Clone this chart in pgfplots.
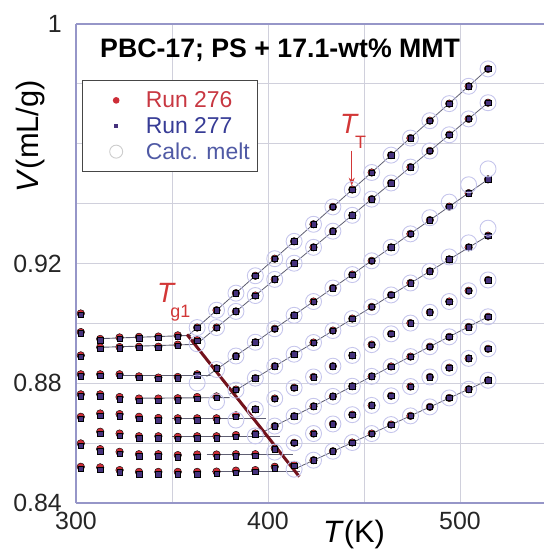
\documentclass[border=0pt]{standalone}
\usepackage{fontspec}
\setmainfont{Liberation Sans}
\usepackage{pgfplots}
\pgfplotsset{compat=1.18}
\usepackage{pgfplotstable}
\usetikzlibrary{arrows.meta}
\definecolor{r276}{RGB}{205,45,55}
\definecolor{b277}{RGB}{70,50,125}
\definecolor{calc}{RGB}{198,198,236}
\definecolor{gridc}{RGB}{208,208,220}
\definecolor{axc}{RGB}{150,150,200}
\definecolor{tgc}{RGB}{115,18,28}
\definecolor{fitc}{RGB}{95,95,115}
\definecolor{annc}{RGB}{210,55,55}
\definecolor{legt1}{RGB}{200,55,65}
\definecolor{legt2}{RGB}{55,60,150}
\definecolor{legt3}{RGB}{80,90,165}
\definecolor{legc}{RGB}{205,205,205}

\pgfplotstableread{
T a b c
302.5 0.9033 0.9029 nan
302.5 0.8971 0.8967 nan
302.5 0.8893 0.8888 nan
302.5 0.8830 0.8824 nan
302.5 0.8763 0.8756 nan
302.5 0.8688 0.8681 nan
302.5 0.8599 0.8592 nan
302.5 0.8521 0.8514 nan
312.6 0.8948 0.8944 nan
322.7 0.8953 0.8949 nan
332.8 0.8955 0.8951 nan
342.9 0.8956 0.8952 nan
353.0 0.8960 0.8956 nan
363.1 0.8986 0.8986 0.8986
373.2 0.9044 0.9044 0.9044
383.3 0.9101 0.9101 0.9101
393.4 0.9159 0.9159 0.9159
403.5 0.9216 0.9216 0.9216
413.6 0.9274 0.9274 0.9274
423.7 0.9331 0.9331 0.9331
433.8 0.9389 0.9389 0.9389
443.9 0.9447 0.9447 0.9447
454.0 0.9504 0.9504 0.9504
464.1 0.9562 0.9562 0.9562
474.2 0.9619 0.9619 0.9619
484.3 0.9677 0.9677 0.9677
494.4 0.9734 0.9734 0.9734
504.5 0.9792 0.9792 0.9792
514.6 0.9850 0.9850 0.9850
312.6 0.8920 0.8916 nan
322.7 0.8921 0.8917 nan
332.8 0.8922 0.8918 nan
342.9 0.8922 0.8918 nan
353.0 0.8929 0.8925 nan
363.1 0.8944 0.8942 0.8932
373.2 0.8986 0.8986 0.8986
383.3 0.9040 0.9040 0.9040
393.4 0.9093 0.9093 0.9093
403.5 0.9147 0.9147 0.9147
413.6 0.9201 0.9201 0.9201
423.7 0.9254 0.9254 0.9254
433.8 0.9308 0.9308 0.9308
443.9 0.9361 0.9361 0.9361
454.0 0.9415 0.9415 0.9415
464.1 0.9469 0.9469 0.9469
474.2 0.9522 0.9522 0.9522
484.3 0.9576 0.9576 0.9576
494.4 0.9630 0.9630 0.9630
504.5 0.9683 0.9683 0.9683
514.6 0.9737 0.9737 0.9737
312.6 0.8830 0.8826 nan
322.7 0.8830 0.8826 nan
332.8 0.8823 0.8819 nan
342.9 0.8819 0.8815 nan
353.0 0.8821 0.8817 nan
363.1 0.8830 0.8827 0.8801
373.2 0.8850 0.8850 0.8846
383.3 0.8891 0.8891 0.8891
393.4 0.8937 0.8937 0.8937
403.5 0.8982 0.8982 0.8982
413.6 0.9027 0.9027 0.9027
423.7 0.9073 0.9073 0.9073
433.8 0.9118 0.9118 0.9118
443.9 0.9163 0.9163 0.9163
454.0 0.9209 0.9209 0.9209
464.1 0.9254 0.9254 0.9254
474.2 0.9299 0.9299 0.9299
484.3 0.9345 0.9345 0.9353
494.4 0.9390 0.9390 0.9405
504.5 0.9435 0.9435 0.9463
514.6 0.9481 0.9481 0.9516
312.6 0.8763 0.8756 nan
322.7 0.8754 0.8747 nan
332.8 0.8749 0.8742 nan
342.9 0.8749 0.8742 nan
353.0 0.8750 0.8743 nan
363.1 0.8754 0.8748 nan
373.2 0.8756 0.8751 0.8738
383.3 0.8779 0.8779 0.8777
393.4 0.8817 0.8817 0.8817
403.5 0.8857 0.8857 0.8857
413.6 0.8897 0.8897 0.8897
423.7 0.8936 0.8936 0.8936
433.8 0.8976 0.8976 0.8976
443.9 0.9016 0.9016 0.9016
454.0 0.9055 0.9055 0.9055
464.1 0.9095 0.9095 0.9095
474.2 0.9135 0.9135 0.9135
484.3 0.9174 0.9174 0.9174
494.4 0.9214 0.9214 0.9222
504.5 0.9254 0.9254 0.9269
514.6 0.9293 0.9293 0.9318
312.6 0.8699 0.8692 nan
322.7 0.8697 0.8690 nan
332.8 0.8688 0.8681 nan
342.9 0.8684 0.8677 nan
353.0 0.8683 0.8676 nan
363.1 0.8683 0.8676 nan
373.2 0.8683 0.8677 nan
383.3 0.8693 0.8689 0.8677
393.4 0.8713 0.8713 0.8713
403.5 0.8749 0.8749 0.8749
413.6 0.8785 0.8785 0.8785
423.7 0.8821 0.8821 0.8821
433.8 0.8857 0.8857 0.8857
443.9 0.8893 0.8893 0.8893
454.0 0.8929 0.8929 0.8929
464.1 0.8965 0.8965 0.8965
474.2 0.9001 0.9001 0.9001
484.3 0.9037 0.9037 0.9037
494.4 0.9073 0.9073 0.9073
504.5 0.9109 0.9109 0.9109
514.6 0.9145 0.9145 0.9145
312.6 0.8638 0.8631 nan
322.7 0.8632 0.8625 nan
332.8 0.8623 0.8616 nan
342.9 0.8623 0.8616 nan
353.0 0.8621 0.8614 nan
363.1 0.8623 0.8616 nan
373.2 0.8623 0.8617 nan
383.3 0.8627 0.8622 nan
393.4 0.8632 0.8629 0.8624
403.5 0.8657 0.8657 0.8657
413.6 0.8690 0.8690 0.8690
423.7 0.8723 0.8723 0.8723
433.8 0.8756 0.8756 0.8756
443.9 0.8790 0.8790 0.8790
454.0 0.8823 0.8823 0.8823
464.1 0.8856 0.8856 0.8856
474.2 0.8889 0.8889 0.8889
484.3 0.8922 0.8922 0.8922
494.4 0.8955 0.8955 0.8955
504.5 0.8988 0.8988 0.8988
514.6 0.9022 0.9022 0.9022
312.6 0.8580 0.8573 nan
322.7 0.8571 0.8564 nan
332.8 0.8563 0.8556 nan
342.9 0.8563 0.8556 nan
353.0 0.8560 0.8553 nan
363.1 0.8562 0.8555 nan
373.2 0.8562 0.8555 nan
383.3 0.8563 0.8557 nan
393.4 0.8563 0.8558 nan
403.5 0.8582 0.8579 0.8570
413.6 0.8601 0.8601 0.8601
423.7 0.8632 0.8632 0.8632
433.8 0.8664 0.8664 0.8664
443.9 0.8695 0.8695 0.8695
454.0 0.8726 0.8726 0.8726
464.1 0.8758 0.8758 0.8758
474.2 0.8789 0.8789 0.8789
484.3 0.8821 0.8821 0.8821
494.4 0.8852 0.8852 0.8852
504.5 0.8883 0.8883 0.8883
514.6 0.8915 0.8915 0.8915
312.6 0.8519 0.8512 nan
322.7 0.8510 0.8503 nan
332.8 0.8504 0.8497 nan
342.9 0.8504 0.8497 nan
353.0 0.8504 0.8497 nan
363.1 0.8504 0.8497 nan
373.2 0.8505 0.8498 nan
383.3 0.8508 0.8501 nan
393.4 0.8510 0.8504 nan
403.5 0.8521 0.8516 nan
413.6 0.8527 0.8525 0.8513
423.7 0.8543 0.8543 0.8543
433.8 0.8573 0.8573 0.8573
443.9 0.8602 0.8602 0.8602
454.0 0.8632 0.8632 0.8632
464.1 0.8662 0.8662 0.8662
474.2 0.8691 0.8691 0.8691
484.3 0.8721 0.8721 0.8721
494.4 0.8751 0.8751 0.8751
504.5 0.8780 0.8780 0.8780
514.6 0.8810 0.8810 0.8810
}\pts

\begin{document}
\begin{tikzpicture}
\begin{axis}[
  at={(0,0)}, anchor=south west,
  scale only axis, width=468bp, height=479bp,
  xmin=300, xmax=543.75, ymin=0.84, ymax=1,
  axis x line*=box, axis y line*=left,
  axis line style={axc, line width=1.3bp},
  xtick={300,400,500}, xticklabels={300,400,500},
  minor xtick={350,450},
  ytick={0.84,0.88,0.92,1}, yticklabels={0.84,0.88,0.92,1},
  minor ytick={0.86,0.90,0.94,0.96,0.98},
  grid=both,
  major grid style={gridc, line width=0.9bp},
  minor grid style={gridc, line width=0.9bp},
  major tick length=0pt, minor tick length=0pt,
  tick label style={font=\fontsize{25}{30}\selectfont, text=black!85},
  xticklabel style={inner sep=0pt, anchor=north, yshift=-9bp},
  yticklabel style={inner sep=0pt, anchor=east, xshift=-14bp},
  /pgf/number format/assume math mode=true,
  xlabel={\textit{T}(K)}, ylabel={\textit{V}(mL/g)},
  label style={font=\fontsize{31}{34}\selectfont},
  xlabel style={at={(axis description cs:0.594,-0.0668)}, anchor=center},
  ylabel style={at={(axis description cs:-0.097,0.766)}, anchor=center},
  clip=false,
  legend style={at={(0.0128,0.883)}, anchor=north west,
    draw={rgb,255:red,70;green,70;blue,70}, line width=1.2bp, fill=white,
    font=\fontsize{23}{24}\selectfont, inner xsep=6bp, inner ysep=9bp,
    row sep=4bp},
  legend cell align=left,
]
% glass fit lines
\addplot[fitc, line width=0.9bp, forget plot] coordinates {(312.6,0.8949) (360,0.8960)};
\addplot[fitc, line width=0.9bp, forget plot] coordinates {(312.6,0.8920) (363,0.8930)};
\addplot[fitc, line width=0.9bp, forget plot] coordinates {(323,0.8826) (371,0.8826)};
\addplot[fitc, line width=0.9bp, forget plot] coordinates {(333,0.8750) (380,0.8752)};
\addplot[fitc, line width=0.9bp, forget plot] coordinates {(350,0.8684) (399,0.8684)};
\addplot[fitc, line width=0.9bp, forget plot] coordinates {(350,0.8622) (406,0.8622)};
\addplot[fitc, line width=0.9bp, forget plot] coordinates {(368,0.8562) (413,0.8562)};
\addplot[fitc, line width=0.9bp, forget plot] coordinates {(371,0.8505) (416.7,0.8505)};
% melt fit lines
\addplot[fitc, line width=0.8bp, forget plot] coordinates {(358,0.8957) (514.6,0.9850)};
\addplot[fitc, line width=0.8bp, forget plot] coordinates {(364,0.8937) (514.6,0.9737)};
\addplot[fitc, line width=0.8bp, forget plot] coordinates {(368,0.8823) (514.6,0.9481)};
\addplot[fitc, line width=0.8bp, forget plot] coordinates {(380,0.8764) (514.6,0.9293)};
\addplot[fitc, line width=0.8bp, forget plot] coordinates {(398,0.8639) (514.6,0.9022)};
\addplot[fitc, line width=0.8bp, forget plot] coordinates {(414,0.8514) (514.6,0.8810)};
% data
\addplot[only marks, mark=*, mark size=3.8bp, mark options={fill=r276, draw=none},
  legend image code/.code={\path (0bp,0bp) (54bp,0bp); \fill[r276] (27bp,0bp) circle (2.7bp);}] table[x=T,y=a]{\pts};
\addlegendentry{\textcolor{legt1}{Run 276}}
\addplot[only marks, mark=square*, mark size=2.75bp, mark options={fill=b277, draw=none},
  legend image code/.code={\path (0bp,0bp) (54bp,0bp); \fill[b277] (25.5bp,-1.6bp) rectangle (28.5bp,1.6bp);}] table[x=T,y=b]{\pts};
\addlegendentry{\textcolor{legt2}{Run 277}}
\addplot[only marks, mark=o, mark size=8bp, mark options={draw=calc, line width=0.9bp},
  legend image code/.code={\path (0bp,0bp) (54bp,0bp); \draw[legc, line width=0.9bp] (27bp,0bp) circle (6.5bp);}] table[x=T,y=c]{\pts};
\addlegendentry{\textcolor{legt3}{Calc. melt}}
% Tg1 line
\addplot[tgc, line width=3bp, forget plot] coordinates {(357.8,0.8963) (416.3,0.8488)};
% annotations
\node[anchor=base west, text=annc, inner sep=0pt, font=\fontsize{28}{30}\selectfont] at (axis cs:342.2,0.907) {\textit{T}};
\node[anchor=base west, text=annc, inner sep=0pt, font=\fontsize{18}{20}\selectfont] at (axis cs:349.0,0.902) {g1};
\node[anchor=base west, text=annc, inner sep=0pt, font=\fontsize{28}{30}\selectfont] at (axis cs:437.5,0.9633) {\textit{T}};
\node[anchor=base west, text=annc, inner sep=0pt, font=\fontsize{18}{20}\selectfont] at (axis cs:445.3,0.9583) {T};
\draw[annc, line width=1bp, -{Stealth[length=8bp,width=6bp]}] (axis cs:443.6,0.9577) -- (axis cs:443.6,0.946);
\node[anchor=west, inner sep=0pt, font=\fontsize{26.8}{30}\selectfont\bfseries] at (axis description cs:0.0513,0.9457) {PBC-17; PS + 17.1-wt\% MMT};
\end{axis}
\pgfresetboundingbox
\useasboundingbox (-76bp,-47bp) rectangle (468bp,503bp);
\end{tikzpicture}
\end{document}
